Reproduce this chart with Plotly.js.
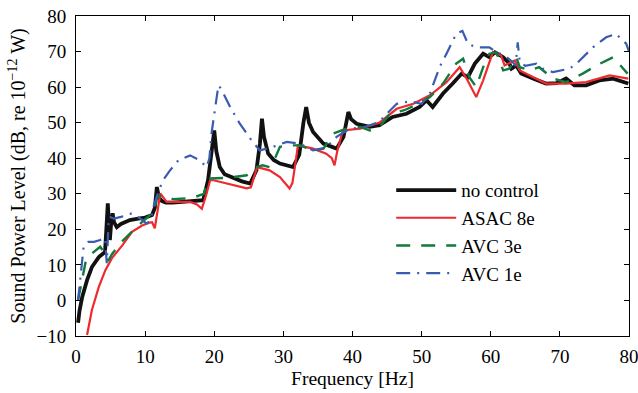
<!DOCTYPE html>
<html>
<head>
<meta charset="utf-8">
<script src="https://cdn.plot.ly/plotly-3.0.1.min.js"></script>
<style>html,body{margin:0;padding:0;background:#fff;}#chart{width:638px;height:393px;}</style>
</head>
<body>
<div id="chart"></div>
<script>
// Series names
const seriesNames = ["no control", "ASAC 8e", "AVC 3e", "AVC 1e"];

// no control
const noControlX = [0.3,0.5,0.9,1.6,2.3,3.3,4.2,4.45,4.6,4.75,4.9,5.1,5.3,5.5,5.9,6.5,7.8,9,10,11,11.4,11.7,12.0,12.4,13,14,16,17.5,18.4,19.1,19.5,19.8,20.0,20.3,20.8,21.5,22.7,24,25.2,26.1,26.6,26.9,27.2,27.8,28.6,29.5,31.4,32.3,32.9,33.3,33.7,34.3,35.8,37.7,38.7,39.2,39.4,39.8,40.6,42.5,43.9,45.8,47.8,49.7,50.7,51.6,53.1,54.5,55.8,56.7,57.7,58.9,59.8,60.6,61.8,62.7,63.0,63.7,64.4,66.1,68,69.5,70.9,72.1,73.8,75.7,77.7,79.9];
const noControlY = [-6.3,-3,1,5.7,9.4,12.2,13.6,20,27.3,22,17,22,24.5,22,20.6,21.5,22.6,23,23.3,24,26,31.9,29,28,27.5,27.5,27.7,28,28.2,33.8,40,46,47.8,42,37.5,35.5,34.4,33.5,32.9,36.6,44,51.1,46,41.3,39.5,38.5,37.5,41,50,54.4,50,47.4,44.1,42.7,46,52,53,51,49.7,48.8,49.3,51.6,52.5,54.4,56.3,54.4,58.2,61,63.8,62.8,66.6,69.4,68.4,69.8,68.4,66.6,65.2,66.1,63.8,62.4,61,61.1,62.4,60.5,60.5,61.9,62.4,61];

// ASAC 8e
const asacX = [1.6,2.3,3.3,4.25,5.2,6.7,8.1,9.5,10.5,11.0,11.4,11.8,12.2,13.1,16.5,17.5,18.2,18.9,19.4,19.9,22,24.7,25.3,26.2,28,29.5,30.9,31.3,31.7,32.1,34.3,36.2,37.0,37.4,37.8,38.6,41.1,43.9,46.4,48.8,51.2,53.6,55.5,56.5,57.9,58.9,60.3,61.5,62.0,63.0,63.5,64.2,66.1,68,70.9,73.8,77.2,79.9];
const asacY = [-9.7,-2.7,3.8,8.5,11.9,15.5,19.3,21,21.8,22,20.3,25,30.1,27.7,27.7,27,25.8,30.1,33.8,33.8,32.8,31.5,31.8,37.5,36.6,34.7,31.5,33,38,43.6,42.7,41.3,40,38,42,47.8,48.3,50,53.9,55.3,57.7,61.4,65.6,62.4,57.2,61.9,69.8,68.9,66.1,67,67.5,64.7,62.8,61,61,61.4,63.3,62.4];

// AVC 3e
const avc3X = [0.3,0.9,1.4,2.3,3.5,3.9,4.4,4.7,5.2,6.4,8.8,10.7,11.3,11.7,12.6,14,16,17.2,18.5,19.1,19.9,22,24.7,26.1,27,28,28.8,29.5,30.9,32.4,34.3,35.8,37.2,39.1,41.1,42.5,43.9,45.4,47.5,49.7,51.2,53.1,55,56,56.9,57.9,58.9,59.8,60.8,61.8,62.7,63.7,64.2,65.6,67,69,70.9,73.3,75.3,77.7,79.8];
const avc3Y = [0.1,6.6,10.9,13.2,15.1,14,11.5,11.3,13,16.1,20.7,24,24.5,29.1,29.6,28.5,28.7,29.1,30,34.3,34.3,34.5,35.2,37.5,38,37.5,40,43.2,43.6,43.6,42.2,42.7,46.9,48.3,48.8,47.8,48.8,52.5,53.5,55.5,57.2,61,66.6,68,62.8,60,65.6,69.4,69.8,64.7,65.2,68.4,65.6,64.7,65.6,62.4,61.4,63.8,66.1,68.4,63.8];

// AVC 1e
const avc1X = [0.3,0.5,0.7,1.1,1.8,2.6,3.5,4.2,4.45,4.6,4.75,4.9,5.5,6.5,8.1,9.3,10.2,10.8,11.2,12.0,12.6,13.6,14.8,16.5,17.9,18.9,19.3,19.6,20.1,20.6,21.0,22.3,23.7,25.4,26.6,28.5,30.5,32.4,34.3,36.2,37.7,39.6,41.8,43.9,44.7,46.4,48.3,50,51.2,51.9,52.6,53.6,55,55.9,56.7,57.9,59.8,60.8,62,63.2,63.6,63.9,64.2,65,66.6,67.5,69,71.4,72.4,74.8,76.7,78.1,79.6,80];
const avc1Y = [0,4,9,15.1,16.5,16.5,17,17.5,10.5,17,23.4,23.5,23,23.5,24.5,23,21.7,22.5,26.3,31,33.8,36.6,39.4,40.8,39.4,37.5,40,46.9,53.5,60.5,59.5,54.4,49.7,45,42.2,43.2,44.6,44.1,42.2,43,46,48.3,48.8,50.2,52,55.3,56,55.3,58.2,61.9,65.6,69.4,75,75.8,72.2,71.2,71.2,69.8,68.9,67,66,72.6,67,66,66.6,65.2,64.2,65.2,66.6,71.2,74,75,72.2,70];

const xTickVals = [0,10,20,30,40,50,60,70,80];
const yTickVals = [-10,0,10,20,30,40,50,60,70,80];

const FONT = "'Liberation Serif', 'Times New Roman', Times, serif";

const traces = [
  {x: noControlX, y: noControlY, name: seriesNames[0], type: 'scatter', mode: 'lines',
   line: {color: '#111111', width: 3.8}},
  {x: asacX, y: asacY, name: seriesNames[1], type: 'scatter', mode: 'lines',
   line: {color: '#ee2a2f', width: 2.2}},
  {x: avc3X, y: avc3Y, name: seriesNames[2], type: 'scatter', mode: 'lines',
   line: {color: '#117a3c', width: 2.4, dash: '14px,11px'}},
  {x: avc1X, y: avc1Y, name: seriesNames[3], type: 'scatter', mode: 'lines',
   line: {color: '#3a5cb0', width: 2.2, dash: '14px,7px,2px,7px'}}
];

const layout = {
  width: 638, height: 393,
  margin: {l: 76, r: 9, t: 16, b: 57, pad: 0},
  paper_bgcolor: '#ffffff', plot_bgcolor: '#ffffff',
  font: {family: FONT, size: 19, color: '#000'},
  showlegend: true,
  legend: {x: 0.57, y: 0.515, xanchor: 'left', yanchor: 'top',
           bgcolor: 'rgba(0,0,0,0)', borderwidth: 0, itemwidth: 60,
           font: {family: FONT, size: 19, color: '#000'}, tracegroupgap: 0},
  xaxis: {range: [0, 80], tickvals: xTickVals, ticks: 'inside', ticklen: 5, tickcolor: '#000',
          showline: true, linecolor: '#000', linewidth: 1, mirror: 'ticks',
          showgrid: false, zeroline: false, ticklabelstandoff: 3, ticklabeloverflow: 'allow',
          tickfont: {family: FONT, size: 19, color: '#000'},
          title: {text: 'Frequency [Hz]', font: {family: FONT, size: 19.5, color: '#000'}, standoff: 5}},
  yaxis: {range: [-10, 80], tickvals: yTickVals, ticks: 'inside', ticklen: 5, tickcolor: '#000',
          showline: true, linecolor: '#000', linewidth: 1, mirror: 'ticks',
          showgrid: false, zeroline: false, ticklabelstandoff: 5, ticklabeloverflow: 'allow',
          tickfont: {family: FONT, size: 19, color: '#000'},
          title: {text: 'Sound Power Level (dB, re 10<sup>\u221212</sup> W)', font: {family: FONT, size: 20, color: '#000'}, standoff: 5}}
};

Plotly.newPlot('chart', traces, layout, {displayModeBar: false, staticPlot: true});
</script>
</body>
</html>
